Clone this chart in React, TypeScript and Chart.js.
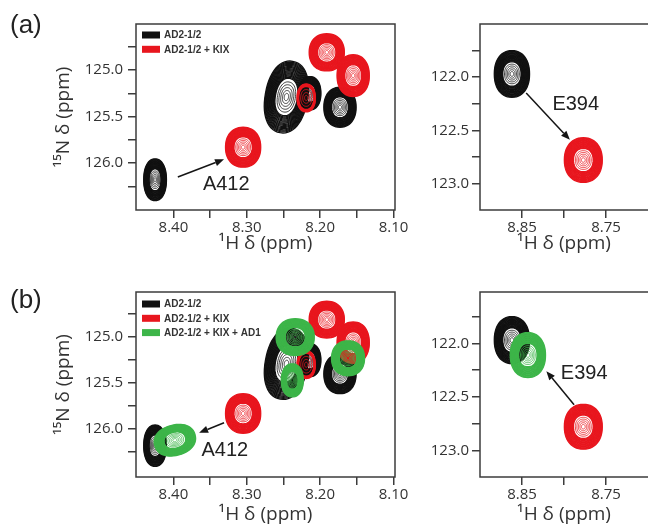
import React, { useEffect, useRef } from 'react';
import { Chart, registerables } from 'chart.js';

Chart.register(...registerables);

// ---------- data ----------
const seriesLabels = ['AD2-1/2', 'AD2-1/2 + KIX', 'AD2-1/2 + KIX + AD1'];
const seriesColors = ['#111111', '#e8161e', '#3db549'];

// peaks: x = 1H shift (ppm), y = 15N shift (ppm), wh / wn = outer contour half-widths (ppm)
const apoLeftPeaks = [
  { x: 8.425, y: 126.18, wh: 0.0155, wn: 0.225 },
  { x: 8.246, y: 125.29, wh: 0.029, wn: 0.39, tilt: 10 },
  { x: 8.214, y: 125.25, wh: 0.015, wn: 0.18 },
  { x: 8.173, y: 125.40, wh: 0.022, wn: 0.215 },
];
const kixLeftPeaks = [
  { x: 8.305, y: 125.83, wh: 0.024, wn: 0.215 },
  { x: 8.219, y: 125.30, wh: 0.0125, wn: 0.15, weak: true },
  { x: 8.191, y: 124.81, wh: 0.024, wn: 0.20 },
  { x: 8.155, y: 125.06, wh: 0.022, wn: 0.225 },
];
const ad1LeftPeaks = [
  { x: 8.398, y: 126.12, wh: 0.0285, wn: 0.165, tilt: -15 },
  { x: 8.234, y: 125.00, wh: 0.026, wn: 0.20 },
  { x: 8.238, y: 125.47, wh: 0.015, wn: 0.18 },
  { x: 8.162, y: 125.23, wh: 0.0225, wn: 0.19 },
];
const apoRightPeaks = [{ x: 8.862, y: 121.97, wh: 0.021, wn: 0.22 }];
const kixRightPeaks = [{ x: 8.777, y: 122.78, wh: 0.0226, wn: 0.21 }];
const ad1RightPeaks = [{ x: 8.843, y: 122.11, wh: 0.021, wn: 0.21 }];

const arrowsTopLeft = [{ from: [8.394, 126.15], to: [8.331, 125.96] }];
const arrowsTopRight = [{ from: [8.845, 122.15], to: [8.793, 122.59] }];
const arrowsBottomLeft = [{ from: [8.331, 125.93], to: [8.365, 126.04] }];
const arrowsBottomRight = [{ from: [8.788, 122.575], to: [8.821, 122.26] }];

const notesTopLeft = [{ text: 'A412', x: 8.328, y: 126.23 }];
const notesTopRight = [{ text: 'E394', x: 8.786, y: 122.26 }];
const notesBottomLeft = [{ text: 'A412', x: 8.330, y: 126.23 }];
const notesBottomRight = [{ text: 'E394', x: 8.776, y: 122.28 }];

const xTicksLeft = [8.40, 8.35, 8.30, 8.25, 8.20, 8.15, 8.10];
const xLabelsLeft = ['8.40', '', '8.30', '', '8.20', '', '8.10'];
const yTicksLeft = [124.75, 125.0, 125.25, 125.5, 125.75, 126.0, 126.25];
const yLabelsLeft = ['', '125.0', '', '125.5', '', '126.0', ''];
const xTicksRight = [8.85, 8.80, 8.75];
const xLabelsRight = ['8.85', '', '8.75'];
const yTicksRight = [121.75, 122.0, 122.25, 122.5, 122.75, 123.0];
const yLabelsRight = ['', '122.0', '', '122.5', '', '123.0'];

const xTitle = '¹H δ (ppm)';
const yTitle = '¹⁵N δ (ppm)';

// ---------- drawing helpers ----------
const TICK_FONT = "'Open Sans', 'Noto Sans', sans-serif";
const ANNO_FONT = "'Liberation Sans', Arial, sans-serif";

function contourPath(ctx: CanvasRenderingContext2D, cx: number, cy: number, rx: number, ry: number, rot: number) {
  const steps = 56;
  const e = 2 / 2.2;
  const cr = Math.cos(rot);
  const sr = Math.sin(rot);
  ctx.beginPath();
  for (let i = 0; i <= steps; i++) {
    const t = (i / steps) * Math.PI * 2;
    const c = Math.cos(t);
    const s = Math.sin(t);
    const px = rx * Math.sign(c) * Math.pow(Math.abs(c), e);
    const py = ry * Math.sign(s) * Math.pow(Math.abs(s), e);
    const X = cx + px * cr - py * sr;
    const Y = cy + px * sr + py * cr;
    if (i === 0) ctx.moveTo(X, Y);
    else ctx.lineTo(X, Y);
  }
  ctx.closePath();
}

function drawPeak(ctx: CanvasRenderingContext2D, xs: any, ys: any, p: any, color: string) {
  const cx = xs.getPixelForValue(p.x);
  const cy = ys.getPixelForValue(p.y);
  const rx = Math.abs(xs.getPixelForValue(p.x + p.wh) - cx);
  const ry = Math.abs(ys.getPixelForValue(p.y + p.wn) - cy);
  const rot = ((p.tilt || 0) * Math.PI) / 180;
  ctx.strokeStyle = color;
  const outer: number[] = [];
  const outerEnd = p.weak ? 0.8 : 0.5;
  for (let f = 1; f >= outerEnd; f -= 0.03) outer.push(f);
  const inner = p.weak ? [0.6, 0.38, 0.18] : [0.42, 0.34, 0.26, 0.18, 0.1];
  ctx.lineWidth = 1.3;
  outer.forEach((f) => {
    contourPath(ctx, cx, cy, rx * f, ry * f, rot);
    ctx.stroke();
  });
  ctx.lineWidth = 0.8;
  inner.forEach((f) => {
    contourPath(ctx, cx, cy, Math.max(rx * f, 0.5), Math.max(ry * f, 0.5), rot);
    ctx.stroke();
  });
}

const nmrPlugin = {
  id: 'nmr',
  afterDatasetsDraw(chart: any, _args: any, opts: any) {
    const { ctx, chartArea: a, scales } = chart;
    const xs = scales.x;
    const ys = scales.y;
    ctx.save();
    ctx.beginPath();
    ctx.rect(a.left, a.top, a.right - a.left, a.bottom - a.top);
    ctx.clip();
    chart.data.datasets.forEach((ds: any) => {
      ds.data.forEach((p: any) => drawPeak(ctx, xs, ys, p, ds.borderColor));
    });
    ctx.restore();

    // arrows
    ctx.save();
    ctx.strokeStyle = '#151515';
    ctx.fillStyle = '#151515';
    ctx.lineWidth = 1.5;
    (opts.arrows || []).forEach((ar: any) => {
      const x1 = xs.getPixelForValue(ar.from[0]);
      const y1 = ys.getPixelForValue(ar.from[1]);
      const x2 = xs.getPixelForValue(ar.to[0]);
      const y2 = ys.getPixelForValue(ar.to[1]);
      const ang = Math.atan2(y2 - y1, x2 - x1);
      const hl = 9;
      const hw = 3.6;
      const bx = x2 - hl * Math.cos(ang);
      const by = y2 - hl * Math.sin(ang);
      ctx.beginPath();
      ctx.moveTo(x1, y1);
      ctx.lineTo(bx, by);
      ctx.stroke();
      ctx.beginPath();
      ctx.moveTo(x2, y2);
      ctx.lineTo(bx + hw * Math.sin(ang), by - hw * Math.cos(ang));
      ctx.lineTo(bx - hw * Math.sin(ang), by + hw * Math.cos(ang));
      ctx.closePath();
      ctx.fill();
    });
    // notes
    ctx.fillStyle = '#222';
    ctx.font = `20px ${ANNO_FONT}`;
    ctx.textAlign = 'center';
    ctx.textBaseline = 'middle';
    (opts.notes || []).forEach((nt: any) => {
      ctx.fillText(nt.text, xs.getPixelForValue(nt.x), ys.getPixelForValue(nt.y));
    });
    ctx.restore();

    // frame
    ctx.save();
    ctx.strokeStyle = '#3c3c3c';
    ctx.lineWidth = 1.5;
    ctx.beginPath();
    if (opts.openRight) {
      ctx.moveTo(chart.width, a.top);
      ctx.lineTo(a.left, a.top);
      ctx.lineTo(a.left, a.bottom);
      ctx.lineTo(chart.width, a.bottom);
    } else {
      ctx.rect(a.left, a.top, a.right - a.left, a.bottom - a.top);
    }
    ctx.stroke();
    ctx.restore();

    // legend
    if (opts.legend) {
      ctx.save();
      ctx.font = `bold 10px ${ANNO_FONT}`;
      ctx.textAlign = 'left';
      ctx.textBaseline = 'middle';
      chart.data.datasets.forEach((ds: any, i: number) => {
        const cy = a.top + opts.legendTop + i * 14.3;
        ctx.fillStyle = ds.borderColor;
        ctx.fillRect(a.left + 6, cy - 3.5, 18, 7);
        ctx.fillStyle = '#333';
        ctx.fillText(ds.label, a.left + 28, cy + 0.5);
      });
      ctx.restore();
    }

    // panel letter
    if (opts.letter) {
      ctx.save();
      ctx.font = `26px ${ANNO_FONT}`;
      ctx.fillStyle = '#222';
      ctx.textAlign = 'left';
      ctx.textBaseline = 'alphabetic';
      ctx.fillText(opts.letter, 10, opts.letterBaseline);
      ctx.restore();
    }
  },
};

type PanelCfg = {
  left: number;
  top: number;
  width: number;
  height: number;
  yAxisWidth: number;
  xAxisHeight: number;
  padRight: number;
  xRange: [number, number];
  yRange: [number, number];
  xTicks: number[];
  xLabels: string[];
  yTicks: number[];
  yLabels: string[];
  series: { label: string; color: string; peaks: any[] }[];
  arrows: any[];
  notes: any[];
  showYTitle: boolean;
  legend: boolean;
  legendTop: number;
  letter?: string;
  letterBaseline?: number;
  titlePadBottom: number;
  yTickPad: number;
  openRight: boolean;
};

function Panel({ cfg }: { cfg: PanelCfg }) {
  const ref = useRef<HTMLCanvasElement | null>(null);
  useEffect(() => {
    if (!ref.current) return;
    const chart = new Chart(ref.current, {
      type: 'scatter',
      data: {
        datasets: cfg.series.map((s) => ({
          label: s.label,
          data: s.peaks,
          borderColor: s.color,
          backgroundColor: s.color,
          pointRadius: 0,
          pointHoverRadius: 0,
        })),
      },
      options: {
        responsive: false,
        animation: false,
        devicePixelRatio: 1,
        layout: { padding: { left: 0, right: cfg.padRight, top: 24, bottom: 0 } },
        plugins: {
          legend: { display: false },
          tooltip: { enabled: false },
          nmr: {
            arrows: cfg.arrows,
            notes: cfg.notes,
            legend: cfg.legend,
            legendTop: cfg.legendTop,
            letter: cfg.letter,
            letterBaseline: cfg.letterBaseline,
            openRight: cfg.openRight,
          },
        } as any,
        scales: {
          x: {
            type: 'linear',
            reverse: true,
            min: cfg.xRange[0],
            max: cfg.xRange[1],
            afterBuildTicks: (axis: any) => {
              axis.ticks = cfg.xTicks.map((value) => ({ value }));
            },
            afterFit: (axis: any) => {
              axis.height = cfg.xAxisHeight;
            },
            ticks: {
              autoSkip: false,
              maxRotation: 0,
              includeBounds: false,
              padding: 1,
              color: '#333',
              font: { family: TICK_FONT, size: 15 },
              callback: (_v: any, i: number) => cfg.xLabels[i],
            },
            grid: { drawOnChartArea: false, drawTicks: true, tickLength: 8, color: '#3c3c3c', lineWidth: 1.5 },
            border: { display: false },
            title: {
              display: true,
              text: xTitle,
              color: '#333',
              font: { family: TICK_FONT, size: 19 },
              padding: { top: 0, bottom: cfg.titlePadBottom },
            },
          },
          y: {
            type: 'linear',
            reverse: true,
            min: cfg.yRange[0],
            max: cfg.yRange[1],
            afterBuildTicks: (axis: any) => {
              axis.ticks = cfg.yTicks.map((value) => ({ value }));
            },
            afterFit: (axis: any) => {
              axis.width = cfg.yAxisWidth;
            },
            ticks: {
              autoSkip: false,
              includeBounds: false,
              padding: cfg.yTickPad,
              color: '#333',
              font: { family: TICK_FONT, size: 15 },
              callback: (_v: any, i: number) => cfg.yLabels[i],
            },
            grid: { drawOnChartArea: false, drawTicks: true, tickLength: 8, color: '#3c3c3c', lineWidth: 1.5 },
            border: { display: false },
            title: {
              display: cfg.showYTitle,
              text: yTitle,
              color: '#333',
              font: { family: TICK_FONT, size: 19 },
              padding: { top: 52, bottom: 0 },
            },
          },
        },
      },
      plugins: [nmrPlugin as any],
    });
    return () => chart.destroy();
  }, [cfg]);
  return (
    <canvas
      ref={ref}
      width={cfg.width}
      height={cfg.height}
      style={{ position: 'absolute', left: cfg.left, top: cfg.top, width: cfg.width, height: cfg.height }}
    />
  );
}

const seriesA = (apo: any[], kix: any[]) => [
  { label: seriesLabels[0], color: seriesColors[0], peaks: apo },
  { label: seriesLabels[1], color: seriesColors[1], peaks: kix },
];
const seriesB = (apo: any[], kix: any[], ad1: any[]) => [
  ...seriesA(apo, kix),
  { label: seriesLabels[2], color: seriesColors[2], peaks: ad1 },
];

const panels: PanelCfg[] = [
  {
    left: 0, top: 0, width: 420, height: 260, yAxisWidth: 136, xAxisHeight: 50, padRight: 25,
    xRange: [8.098, 8.451], yRange: [124.505, 126.505],
    xTicks: xTicksLeft, xLabels: xLabelsLeft, yTicks: yTicksLeft, yLabels: yLabelsLeft,
    series: seriesA(apoLeftPeaks, kixLeftPeaks), arrows: arrowsTopLeft, notes: notesTopLeft,
    showYTitle: true, legend: true, legendTop: 11, letter: '(a)', letterBaseline: 32.7,
    titlePadBottom: 5, yTickPad: 5, openRight: false,
  },
  {
    left: 420, top: 0, width: 228, height: 260, yAxisWidth: 60, xAxisHeight: 50, padRight: 0,
    xRange: [8.70, 8.90], yRange: [121.5, 123.25],
    xTicks: xTicksRight, xLabels: xLabelsRight, yTicks: yTicksRight, yLabels: yLabelsRight,
    series: seriesA(apoRightPeaks, kixRightPeaks), arrows: arrowsTopRight, notes: notesTopRight,
    showYTitle: false, legend: false, legendTop: 11,
    titlePadBottom: 5, yTickPad: 3, openRight: true,
  },
  {
    left: 0, top: 268, width: 420, height: 258, yAxisWidth: 136, xAxisHeight: 49, padRight: 25,
    xRange: [8.098, 8.451], yRange: [124.51, 126.52],
    xTicks: xTicksLeft, xLabels: xLabelsLeft, yTicks: yTicksLeft, yLabels: yLabelsLeft,
    series: seriesB(apoLeftPeaks, kixLeftPeaks, ad1LeftPeaks), arrows: arrowsBottomLeft, notes: notesBottomLeft,
    showYTitle: true, legend: true, legendTop: 12, letter: '(b)', letterBaseline: 39.7,
    titlePadBottom: 0, yTickPad: 5, openRight: false,
  },
  {
    left: 420, top: 268, width: 228, height: 258, yAxisWidth: 60, xAxisHeight: 49, padRight: 0,
    xRange: [8.70, 8.90], yRange: [121.52, 123.25],
    xTicks: xTicksRight, xLabels: xLabelsRight, yTicks: yTicksRight, yLabels: yLabelsRight,
    series: seriesB(apoRightPeaks, kixRightPeaks, ad1RightPeaks), arrows: arrowsBottomRight, notes: notesBottomRight,
    showYTitle: false, legend: false, legendTop: 12,
    titlePadBottom: 0, yTickPad: 3, openRight: true,
  },
];

export default function App() {
  return (
    <div style={{ position: 'absolute', left: 0, top: 0, width: 648, height: 526, overflow: 'hidden', background: '#fff' }}>
      {panels.map((p, i) => (
        <Panel key={i} cfg={p} />
      ))}
    </div>
  );
}
